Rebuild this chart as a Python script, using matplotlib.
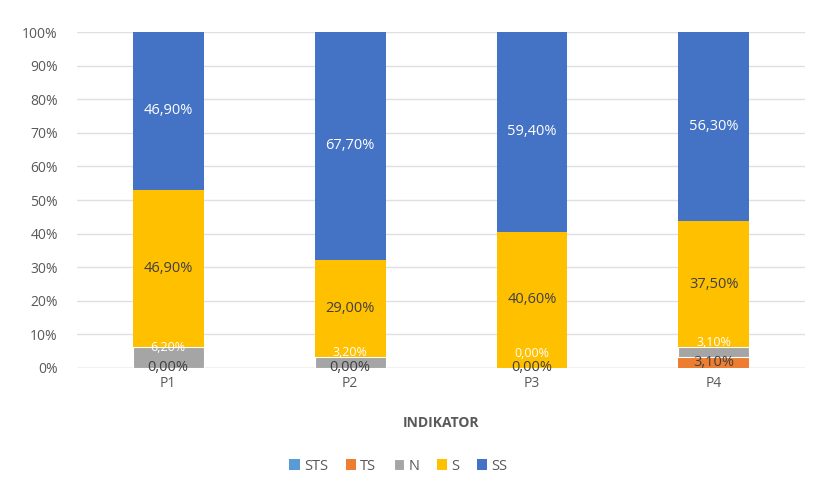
import matplotlib
matplotlib.use("Agg")
import matplotlib.pyplot as plt
import numpy as np

categories = ["P1", "P2", "P3", "P4"]
series_names = ["STS", "TS", "N", "S", "SS"]
STS = [0.0, 0.0, 0.0, 0.0]
TS = [0.0, 0.0, 0.0, 3.1]
N = [6.2, 3.2, 0.0, 3.1]
S = [46.9, 29.0, 40.6, 37.5]
SS = [46.9, 67.7, 59.4, 56.3]
yticks = [0, 10, 20, 30, 40, 50, 60, 70, 80, 90, 100]

colors = ["#5B9BD5", "#ED7D31", "#A5A5A5", "#FFC000", "#4472C4"]
label_colors = ["#404040", "#404040", "white", "#404040", "white"]

plt.rcParams['font.family'] = ['Open Sans', 'DejaVu Sans']

fig = plt.figure(figsize=(8.13, 4.97), dpi=100)
ax = fig.add_axes([0.095, 0.26, 0.895, 0.675])

data = np.array([STS, TS, N, S, SS])
totals = data.sum(axis=0)
pct = data / totals * 100
x = np.arange(len(categories))
width = 0.39
bottom = np.zeros(len(categories))
for i, name in enumerate(series_names):
    ax.bar(x, pct[i], width, bottom=bottom, color=colors[i], label=name, zorder=3,
           edgecolor="white" if name == "N" else "none", linewidth=0.8)
    for j in range(len(categories)):
        v = data[i][j]
        c = bottom[j] + pct[i][j] / 2
        show = True
        if name == "STS" and TS[j] != 0:
            show = False
        if name == "TS" and v == 0:
            show = False
        if not show:
            continue
        off = 0
        fs = 10.5
        if name == "N":
            off = 10 if v == 0 else 7
            fs = 9
        if name in ("STS", "TS"):
            off = 0
        ax.annotate(f"{v:.2f}%".replace(".", ","), (x[j], c), xytext=(0, off),
                    textcoords="offset points", ha="center", va="center",
                    color=label_colors[i], fontsize=fs, zorder=5)
    bottom += pct[i]

ax.set_ylim(0, 100)
ax.set_xlim(-0.5, 3.5)
ax.set_yticks(yticks)
ax.set_yticklabels([f"{t}%" for t in yticks])
ax.set_xticks(x)
ax.set_xticklabels(categories)
ax.tick_params(axis="both", length=0, colors="#595959", labelsize=10)
ax.tick_params(axis="x", pad=6)
ax.tick_params(axis="y", pad=14)
ax.grid(axis="y", color="#E0E0E0", linewidth=1, zorder=0)
for s in ax.spines.values():
    s.set_visible(False)
ax.axhline(0, color="#D9D9D9", linewidth=1, zorder=2)
ax.set_xlabel("INDIKATOR", fontsize=10, fontweight="bold", color="#595959", labelpad=18)

leg = fig.legend(*ax.get_legend_handles_labels(), loc="center", bbox_to_anchor=(0.49, 0.062),
                 ncol=5, frameon=False, fontsize=10.5, handlelength=0.7, handleheight=0.7,
                 handletextpad=0.3, columnspacing=1.2)
for t in leg.get_texts():
    t.set_color("#595959")

fig.savefig("out.png", dpi=100)
